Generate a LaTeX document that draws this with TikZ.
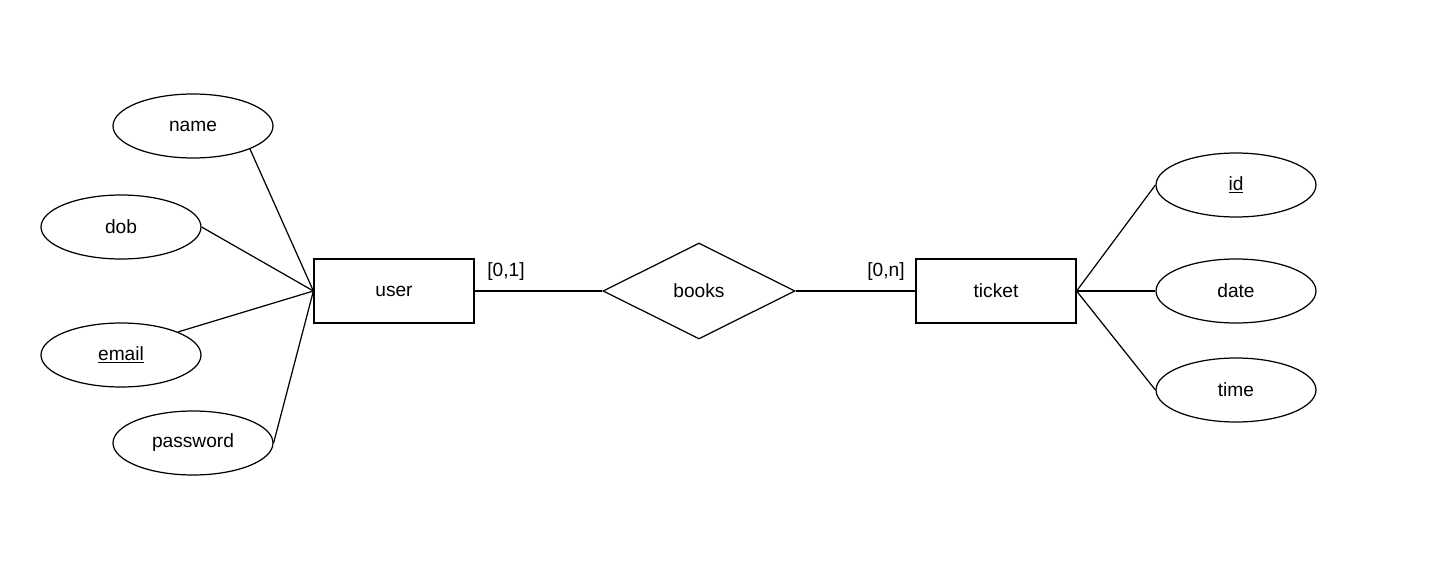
\documentclass[tikz,border=0pt]{standalone}
\usepackage{fontspec}
\setmainfont{Liberation Sans}
\usetikzlibrary{shapes.geometric}

\begin{document}
\begin{tikzpicture}[x=0.02cm,y=-0.02cm,line width=0.7pt,font=\fontsize{10.9}{13}\selectfont]
\tikzstyle{entity}=[draw,rectangle,minimum width=3.2cm,minimum height=1.28cm,inner sep=0pt]
\tikzstyle{attr}=[draw,ellipse,minimum width=3.2cm,minimum height=1.28cm,inner sep=0pt]
\tikzstyle{rel}=[draw,diamond,aspect=2,minimum width=3.84cm,minimum height=1.92cm,inner sep=0pt]
\tikzstyle{card}=[inner sep=0pt]
\useasboundingbox (0,0) rectangle (1431,581);
\node [entity] (user) at (394,291) {user};
\node [rel] (books) at (699,291) {books};
\node [entity] (ticket) at (996,291) {ticket};
\node [attr] (name) at (193,126) {name};
\node [attr] (dob) at (121,227) {dob};
\node [attr] (email) at (121,355) {\underline{email}};
\node [attr] (password) at (193,443) {password};
\node [attr] (id) at (1236,185) {\underline{id}};
\node [attr] (date) at (1236,291) {date};
\node [attr] (time) at (1236,390) {time};
\node [card] (c1) at (506,272) {[0,1]};
\node [card] (cn) at (886,272) {[0,n]};
\path
    (name.south east) edge (user.west)
    (dob.east) edge (user.west)
    (email.north east) edge (user.west)
    (password.east) edge (user.west)
    (user) edge (books)
    (books) edge (ticket)
    (ticket.east) edge (id.west)
    (ticket.east) edge (date.west)
    (ticket.east) edge (time.west);
\end{tikzpicture}
\end{document}
